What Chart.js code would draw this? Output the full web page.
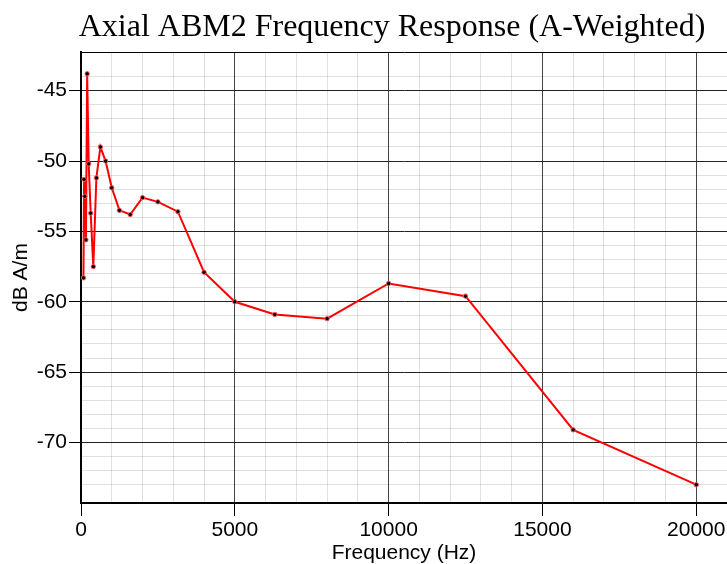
<!DOCTYPE html>
<html lang="en">
<head>
<meta charset="UTF-8">
<title>Axial ABM2 Frequency Response</title>
<script src="https://cdn.jsdelivr.net/npm/chart.js"></script>
<style>
    body { margin: 0; background: #fff; }
</style>
</head>
<body>
<canvas id="freqChart" width="727" height="564"></canvas>
<script>
    const chartTitle = 'Axial ABM2 Frequency Response (A-Weighted)';
    // 1/3 octave bands (Hz) and measured levels (dB A/m)
    const frequencies = [80, 100, 125, 160, 200, 250, 315, 400, 500, 630, 800, 1000, 1250, 1600,
        2000, 2500, 3150, 4000, 5000, 6300, 8000, 10000, 12500, 16000, 20000];
    const levels = [-58.3, -51.3, -52.5, -55.6, -43.8, -50.2, -53.7, -57.5, -51.2, -49.0, -50.0, -51.9, -53.5, -53.8,
        -52.6, -52.9, -53.6, -57.9, -60.0, -60.9, -61.2, -58.7, -59.6, -69.1, -73.0];
    const xTicks = [0, 5000, 10000, 15000, 20000];
    const yTicks = [-45, -50, -55, -60, -65, -70];
    const yMin = -74.3;
    const yMax = -42.25;

    const sans = '"Liberation Sans", Arial, sans-serif';
    const minorGrid = 'rgba(0,0,0,0.12)';

    // title drawn by hand so it sits where the original one does
    const titlePlugin = {
        id: 'plotTitle',
        afterDraw(chart) {
            const ctx = chart.ctx;
            ctx.save();
            ctx.font = '32px "Liberation Serif", "Times New Roman", serif';
            ctx.fillStyle = '#000';
            ctx.textAlign = 'center';
            ctx.textBaseline = 'alphabetic';
            ctx.fillText(chartTitle, 392, 36);
            ctx.restore();
        }
    };

    const points = frequencies.map((f, i) => ({ x: f, y: levels[i] }));

    new Chart(document.getElementById('freqChart'), {
        type: 'scatter',
        data: {
            datasets: [{
                data: points,
                showLine: true,
                borderColor: '#ff0000',
                borderWidth: 2,
                pointRadius: 2.2,
                pointBorderWidth: 1,
                pointBackgroundColor: '#000',
                pointBorderColor: '#ff5555'
            }]
        },
        options: {
            responsive: false,
            animation: false,
            layout: {
                autoPadding: false,
                padding: { top: 52, right: 0, left: 0, bottom: 0 }
            },
            plugins: {
                legend: { display: false },
                tooltip: { enabled: false }
            },
            scales: {
                x: {
                    type: 'linear',
                    min: 0,
                    max: 21000,
                    afterFit: (scale) => {
                        scale.height = 61;
                        scale.paddingRight = 0;
                    },
                    ticks: {
                        stepSize: 1000,
                        autoSkip: false,
                        maxRotation: 0,
                        padding: 2,
                        color: '#000',
                        font: { family: sans, size: 21 },
                        callback: (v) => xTicks.includes(Math.round(v)) ? String(Math.round(v)) : ''
                    },
                    grid: {
                        color: (c) => Math.round(c.tick.value) % 5000 === 0 ? '#444' : minorGrid,
                        tickColor: (c) => xTicks.includes(Math.round(c.tick.value)) ? '#000' : 'rgba(0,0,0,0)',
                        tickLength: 13,
                        lineWidth: 1
                    },
                    border: { color: '#000', width: 2 },
                    title: {
                        display: true,
                        text: 'Frequency (Hz)',
                        color: '#000',
                        font: { family: sans, size: 21 },
                        padding: { top: 0, bottom: -2 }
                    }
                },
                y: {
                    min: yMin,
                    max: yMax,
                    afterFit: (scale) => { scale.width = 81; },
                    ticks: {
                        stepSize: 1,
                        autoSkip: false,
                        padding: 2,
                        color: '#000',
                        font: { family: sans, size: 21 },
                        callback: (v) => yTicks.includes(Math.round(v)) && Math.abs(v - Math.round(v)) < 0.01 ? String(Math.round(v)) : ''
                    },
                    grid: {
                        color: (c) => {
                            const v = c.tick.value;
                            if (Math.abs(v - yMax) < 0.01) return '#000';
                            return Math.abs(v % 5) < 0.01 ? '#222' : minorGrid;
                        },
                        tickColor: (c) => yTicks.includes(Math.round(c.tick.value)) && Math.abs(c.tick.value % 5) < 0.01 ? '#000' : 'rgba(0,0,0,0)',
                        tickLength: 12,
                        lineWidth: 1
                    },
                    border: { color: '#000', width: 2 },
                    title: {
                        display: true,
                        text: 'dB A/m',
                        color: '#000',
                        font: { family: sans, size: 21 },
                        padding: { top: 9, bottom: 0 }
                    }
                }
            }
        },
        plugins: [titlePlugin]
    });
</script>
</body>
</html>
